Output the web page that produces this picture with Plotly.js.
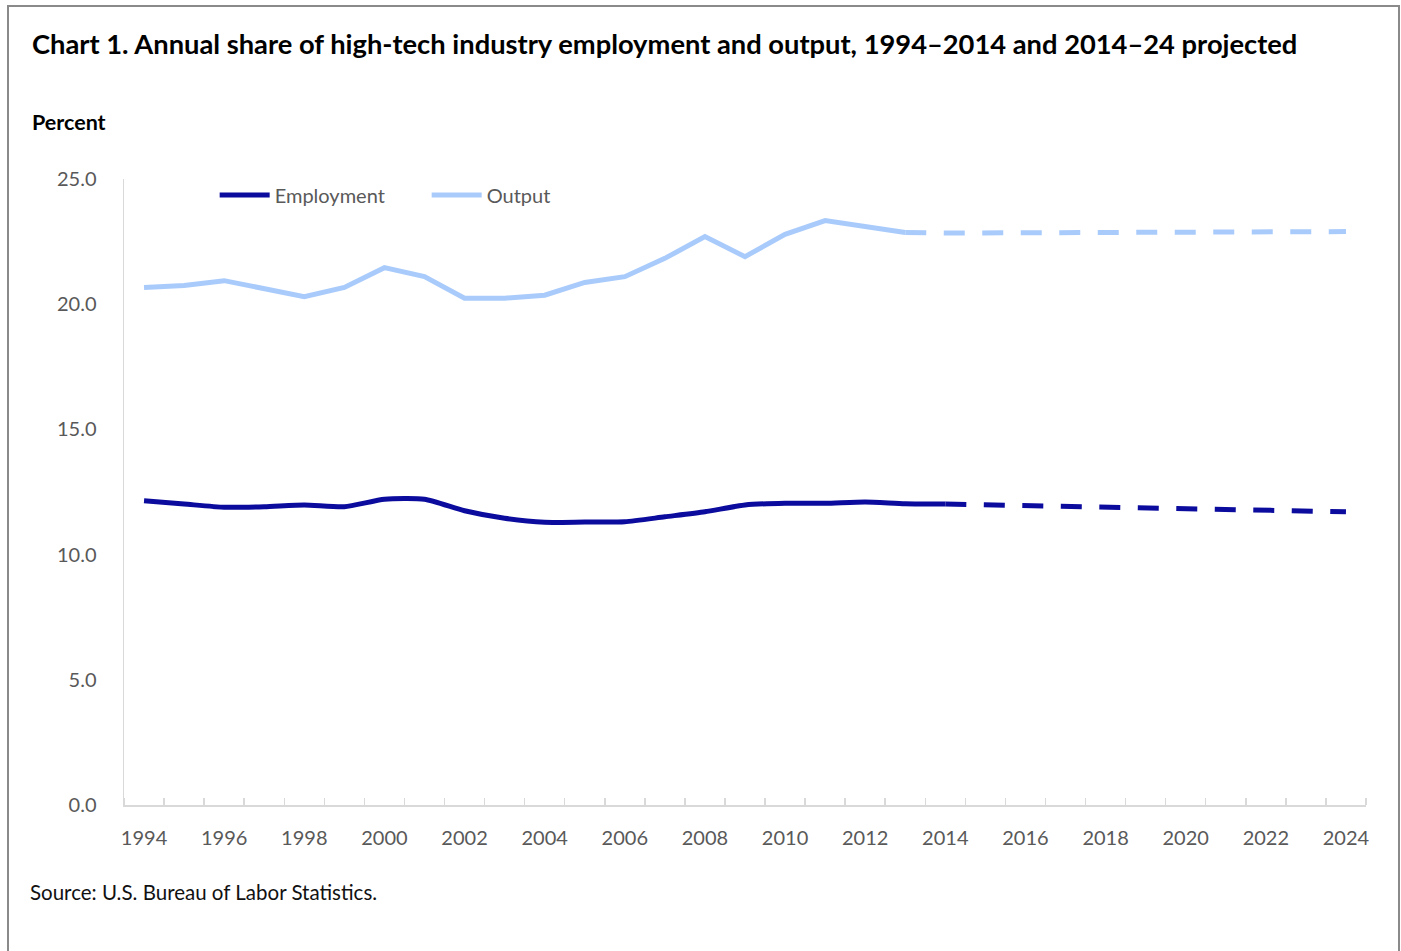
<!DOCTYPE html>
<html><head><meta charset="utf-8">
<script src="https://cdn.plot.ly/plotly-3.0.1.min.js"></script>
<style>
html,body{margin:0;padding:0;background:#fff;}
#chart{position:absolute;left:0;top:0;width:1401px;height:951px;}
#frame{position:absolute;left:7px;top:5px;width:1389px;height:960px;border:2px solid #8a8a8a;pointer-events:none;}
</style>
</head><body>
<div id="chart"></div><div id="frame"></div>
<script>
// ---- data ----
const employmentYears = [1994,1995,1996,1997,1998,1999,2000,2001,2002,2003,2004,2005,2006,2007,2008,2009,2010,2011,2012,2013,2014];
const employment      = [12.15,12.02,11.89,11.91,11.98,11.91,12.21,12.21,11.75,11.45,11.29,11.30,11.31,11.51,11.71,11.98,12.05,12.05,12.10,12.03,12.02];
const outputYears     = [1994,1995,1996,1997,1998,1999,2000,2001,2002,2003,2004,2005,2006,2007,2008,2009,2010,2011,2012,2013];
const output          = [20.67,20.75,20.94,20.63,20.30,20.67,21.46,21.10,20.24,20.24,20.36,20.87,21.10,21.83,22.70,21.90,22.79,23.34,23.10,22.86];
const employmentProjYears = [2014,2024];
const employmentProj      = [12.02,11.71];
const outputProjYears     = [2013,2014,2024];
const outputProj          = [22.86,22.84,22.90];
const xTickVals   = [1994,1996,1998,2000,2002,2004,2006,2008,2010,2012,2014,2016,2018,2020,2022,2024];
const xTickLabels = ['1994','1996','1998','2000','2002','2004','2006','2008','2010','2012','2014','2016','2018','2020','2022','2024'];
const yTickVals   = [0,5,10,15,20,25];
const yTickLabels = ['0.0','5.0','10.0','15.0','20.0','25.0'];

const empColor = '#0b0b9e';
const outColor = '#a9cbfb';
const FONT = 'Lato, "Open Sans", sans-serif';

const traces = [
  {x: outputProjYears, y: outputProj, type:'scatter', mode:'lines', name:'Output (projected)', showlegend:false,
   line:{color: outColor, width:5, dash:'21px,17.5px'}},
  {x: outputYears, y: output, type:'scatter', mode:'lines', name:'Output', showlegend:false,
   line:{color: outColor, width:5}},
  {x: employmentProjYears, y: employmentProj, type:'scatter', mode:'lines', name:'Employment (projected)', showlegend:false,
   line:{color: empColor, width:5, dash:'21px,17.5px'}},
  {x: employmentYears, y: employment, type:'scatter', mode:'lines', name:'Employment', showlegend:false,
   line:{color: empColor, width:5, shape:'spline', smoothing:0.6}},
  // legend entries
  {x:[null], y:[null], type:'scatter', mode:'lines', name:'Employment', line:{color: empColor, width:5}, hoverinfo:'skip'},
  {x:[null], y:[null], type:'scatter', mode:'lines', name:'Output', line:{color: outColor, width:5}, hoverinfo:'skip'}
];

const layout = {
  width:1401, height:951,
  paper_bgcolor:'#ffffff', plot_bgcolor:'#ffffff',
  margin:{l:124, r:35, t:179, b:146, pad:0},
  font:{family: FONT, size:20, color:'#595959'},
  showlegend:true,
  legend:{orientation:'h', x:0.073, xanchor:'left', y:1-16/626, yanchor:'middle',
          font:{family:FONT, size:20, color:'#595959'}, bgcolor:'rgba(0,0,0,0)',
          itemwidth:50, entrywidth:147, entrywidthmode:'pixels', tracegroupgap:0},
  title:{text:'<b>Chart 1. Annual share of high-tech industry employment and output, 1994–2014 and 2014–24 projected</b>',
         x:32/1401, xanchor:'left', xref:'container', y:1-44/951, yanchor:'middle', yref:'container',
         font:{family:FONT, size:27.3, color:'#000000'}},
  xaxis:{type:'linear', range:[1993.5,2024.5], tickmode:'array', tickvals:xTickVals, ticktext:xTickLabels,
         ticks:'', showgrid:false, zeroline:false, showline:true, linecolor:'#d9d9d9', linewidth:1.5,
         ticklabelstandoff:14, tickfont:{family:FONT, size:20, color:'#595959'},
         minor:{tickmode:'linear', tick0:1993.5, dtick:1, ticks:'inside', ticklen:7, tickwidth:1.5, tickcolor:'#d9d9d9', showgrid:false},
         fixedrange:true},
  yaxis:{range:[0,25], tickmode:'array', tickvals:yTickVals, ticktext:yTickLabels,
         ticks:'', showgrid:false, zeroline:false, showline:true, linecolor:'#d9d9d9', linewidth:1.5,
         ticklabelstandoff:22, tickfont:{family:FONT, size:20, color:'#595959'}, fixedrange:true},
  annotations:[
    {text:'<b>Percent</b>', xref:'paper', yref:'paper', x:-(124-30)/1242, xanchor:'left', y:(805-122)/626, yanchor:'middle',
     showarrow:false, font:{family:FONT, size:21.5, color:'#000000'}},
    {text:'Source: U.S. Bureau of Labor Statistics.', xref:'paper', yref:'paper', x:-(124-28)/1242, xanchor:'left', y:(805-892)/626, yanchor:'middle',
     showarrow:false, font:{family:FONT, size:20.5, color:'#111111'}}
  ]
};

Plotly.newPlot('chart', traces, layout, {displayModeBar:false, staticPlot:true});
</script>
</body></html>
